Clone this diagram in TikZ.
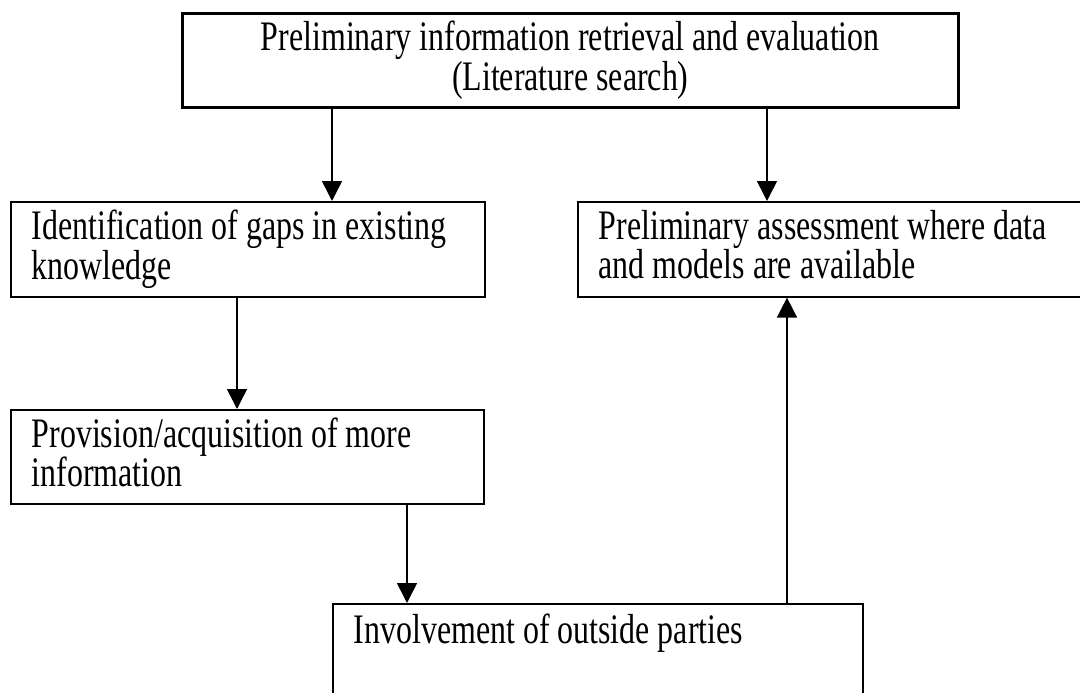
\documentclass[tikz,border=0pt]{standalone}
\usepackage{fontspec}
\setmainfont{Liberation Serif}[FakeStretch=0.76]
\usetikzlibrary{arrows.meta}
\newcommand{\dph}{\vphantom{g}}
\newcommand{\tightsp}{\spaceskip=8pt\relax\xspaceskip=8pt\relax}
\begin{document}
\begin{tikzpicture}[x=1pt,y=-1pt,
  box/.style={draw, line width=1.6pt, rectangle, anchor=north west, inner sep=0pt, inner xsep=21pt, align=left, font=\fontsize{42}{36}\selectfont},
  topbox/.style={draw, line width=2.6pt, rectangle, anchor=north west, inner sep=0pt, align=center, font=\fontsize{42}{40}\selectfont},
  conn/.style={line width=1.6pt, -{Triangle[width=20pt,length=20pt]}}]
\useasboundingbox (0,0) rectangle (1080,693);
\node[topbox, minimum width=776pt, minimum height=94pt] (top) at (181,12)
  {\tightsp\mbox{Preliminary information retrieval and evaluation}\\\tightsp\mbox{(Literature search)}};
\node[box, minimum width=474pt, minimum height=95pt, text width=432pt] (gaps) at (10,201)
  {\tightsp\mbox{Identification of gaps in existing}\\\mbox{knowledge}};
\node[box, minimum width=523pt, minimum height=95pt, text width=481pt] (assess) at (577,201)
  {\tightsp\mbox{Preliminary assessment where data}\\\mbox{and models are available}\dph};
\node[box, minimum width=473pt, minimum height=94pt, text width=431pt] (prov) at (10,409)
  {\tightsp\mbox{Provision/acquisition of more}\\\mbox{information}\dph};
\node[box, minimum width=530pt, minimum height=95pt, text width=488pt] (inv) at (332,603)
  {\tightsp\mbox{Involvement of outside parties}\\\dph};
\coordinate (xa) at (332,0);
\coordinate (xb) at (767,0);
\coordinate (xc) at (237,0);
\coordinate (xd) at (407,0);
\coordinate (xe) at (787,0);
\draw[conn] (top.south -| xa) -- (gaps.north -| xa);
\draw[conn] (top.south -| xb) -- (assess.north -| xb);
\draw[conn] (gaps.south -| xc) -- (prov.north -| xc);
\draw[conn] (prov.south -| xd) -- (inv.north -| xd);
\draw[conn] (inv.north -| xe) -- (assess.south -| xe);
\end{tikzpicture}
\end{document}
